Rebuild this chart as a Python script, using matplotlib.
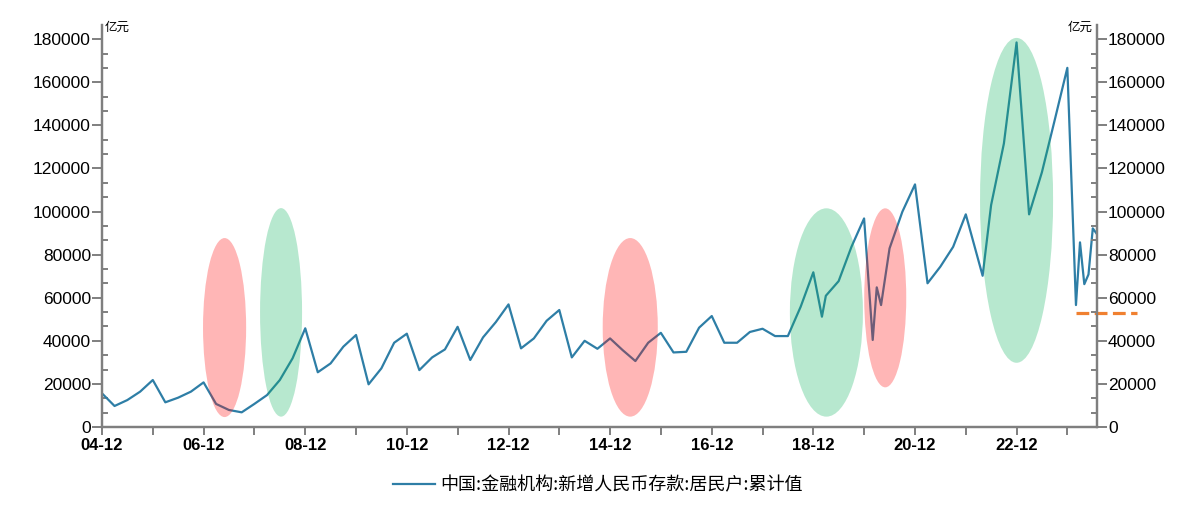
import numpy as np
import pandas as pd
import matplotlib
matplotlib.use("Agg")
import matplotlib.pyplot as plt
import matplotlib.dates as mdates
from matplotlib.patches import Ellipse
from matplotlib.ticker import MultipleLocator, AutoMinorLocator
from matplotlib.lines import Line2D

plt.rcParams['font.family'] = ['Liberation Sans', 'Noto Sans CJK SC', 'DejaVu Sans']

# quarterly data Dec 2004 .. Dec 2018 (亿元, cumulative YTD)
q_dates = pd.date_range("2004-12-01", "2018-12-01", freq="3MS")
q_vals = [15600, 9740, 12500, 16400, 21800, 11450, 13600, 16400, 20700, 10700,
          7900, 6800, 10700, 14800, 21800, 31900, 45800, 25400, 29500, 37300,
          42700, 19800, 27200, 39100, 43300, 26400, 32300, 36000, 46500, 31100,
          41600, 48700, 56900, 36500, 41100, 49300, 54300, 32300, 40000, 36300,
          41100, 35700, 30600, 39100, 43700, 34600, 34900, 46100, 51500, 39100,
          39100, 44100, 45600, 42200, 42200, 55800, 71800]

# later, irregular sampling
m_dates = ["2019-02", "2019-03", "2019-06", "2019-09", "2019-12", "2020-02",
           "2020-03", "2020-04", "2020-06", "2020-09", "2020-12", "2021-03",
           "2021-06", "2021-09", "2021-12", "2022-04", "2022-06", "2022-09",
           "2022-12", "2023-03", "2023-06", "2023-09", "2023-12", "2024-02",
           "2024-03", "2024-04", "2024-05", "2024-06", "2024-07"]
m_vals = [51200, 60900, 67700, 83600, 96800, 40400, 64800, 56600, 82900, 99900,
          112600, 66700, 74400, 83600, 98700, 70200, 103000, 131600, 178500,
          98700, 118200, 142400, 166700, 56600, 85700, 66300, 70800, 92200, 89500]

dates = list(q_dates) + list(pd.to_datetime(m_dates))
vals = q_vals + m_vals

# highlight ellipses: (center date, center value, width days, height value, kind)
ell_centers = ["2007-05-01", "2008-06-10", "2015-04-25", "2019-03-05", "2020-05-01", "2022-12-01"]
ell_yc = [46150, 53200, 46250, 53150, 59950, 105200]
ell_w = [310, 302, 396, 525, 302, 525]
ell_h = [83100, 96800, 82900, 96700, 83100, 150800]
ell_kind = ["red", "green", "red", "green", "red", "green"]

# orange dashed reference
ref_val = 52700
ref_start, ref_end = "2024-02-01", "2025-04-15"

line_color = "#2e7ea6"
spine_color = "#7f7f7f"

fig = plt.figure(figsize=(11.96, 5.14), dpi=100)
ax = fig.add_axes([0.0853, 0.1693, 0.9172 - 0.0853, 0.9514 - 0.1693])

ax.plot(dates, vals, color=line_color, lw=1.6, zorder=2)

for c, yc, w, h, k in zip(ell_centers, ell_yc, ell_w, ell_h, ell_kind):
    col = (1.0, 0.06, 0.06) if k == "red" else (0.07, 0.70, 0.38)
    e = Ellipse((mdates.date2num(pd.Timestamp(c)), yc), w, h,
                facecolor=col, edgecolor="none", alpha=0.3, zorder=3)
    ax.add_patch(e)

ax.plot(pd.to_datetime([ref_start, ref_end]), [ref_val, ref_val], color="#f08030",
        lw=2.3, dashes=(4, 1.7), clip_on=False, zorder=4)

ax.set_xlim(pd.Timestamp("2004-12-01"), pd.Timestamp("2024-07-01"))
ax.set_ylim(0, 186600)

ax.xaxis.set_major_locator(mdates.YearLocator(2, month=12, day=1))
ax.xaxis.set_minor_locator(mdates.YearLocator(1, month=12, day=1))
ax.xaxis.set_major_formatter(mdates.DateFormatter("%y-%m"))

ax.yaxis.set_major_locator(MultipleLocator(20000))
ax.yaxis.set_minor_locator(AutoMinorLocator(3))

ax2 = ax.twinx()
ax2.set_ylim(ax.get_ylim())
ax2.yaxis.set_major_locator(MultipleLocator(20000))
ax2.yaxis.set_minor_locator(AutoMinorLocator(3))

for a in (ax, ax2):
    a.spines['top'].set_visible(False)
    for s in ('left', 'right', 'bottom'):
        a.spines[s].set_color(spine_color)
        a.spines[s].set_linewidth(1.6)

ax.tick_params(axis='y', which='major', direction='out', length=7, width=1.4,
               color=spine_color, labelsize=12.5, pad=1)
ax.tick_params(axis='y', which='minor', direction='in', length=4, width=1.4,
               color=spine_color)
ax2.tick_params(axis='y', which='major', direction='out', length=7, width=1.4,
                color=spine_color, labelsize=12.5, pad=1)
ax2.tick_params(axis='y', which='minor', direction='in', length=4, width=1.4,
                color=spine_color)
ax.tick_params(axis='x', which='both', direction='out', length=6, width=1.4,
               color=spine_color, labelsize=12, pad=2)
for lab in ax.get_xticklabels():
    lab.set_fontweight('bold')

fig.text(0.0878, 0.947, "亿元", fontsize=9, ha='left', va='center',
         family=['Noto Sans CJK SC'])
fig.text(0.914, 0.947, "亿元", fontsize=9, ha='right', va='center',
         family=['Noto Sans CJK SC'])

h = Line2D([], [], color=line_color, lw=1.6)
fig.legend([h], ["中国:金融机构:新增人民币存款:居民户:累计值"], loc='center',
           bbox_to_anchor=(0.5, 0.056), frameon=False, handlelength=2.3,
           handletextpad=0.3, prop={'family': 'Noto Sans CJK SC', 'size': 13})

fig.savefig("out.png", dpi=100)
